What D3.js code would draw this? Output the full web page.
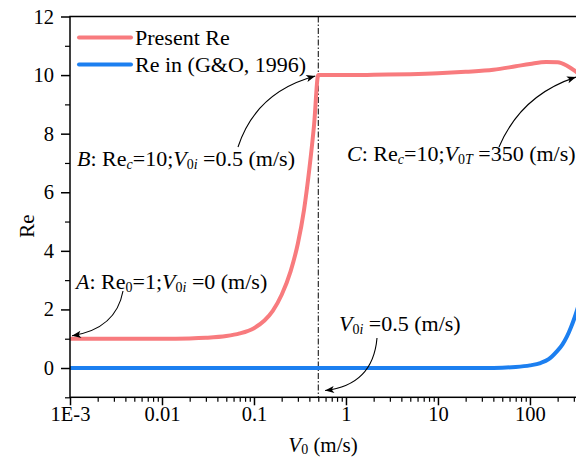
<!DOCTYPE html>
<html>
<head>
<meta charset="utf-8">
<script src="https://cdn.jsdelivr.net/npm/d3@7"></script>
<style>
  html, body { margin: 0; padding: 0; background: #fff; }
  svg { display: block; }
  svg text { font-family: "Liberation Serif", "Times New Roman", Times, serif !important; }
</style>
</head>
<body>
<svg id="chart" width="576" height="461" font-family="Liberation Serif, serif"></svg>
<script>
// Present model: Re versus initial velocity V0 (m/s)
const presentV0 = [0.001, 0.002, 0.005, 0.01, 0.02, 0.03, 0.05, 0.07, 0.1, 0.13, 0.16, 0.2, 0.25, 0.3, 0.35, 0.4, 0.45, 0.5,
                   0.7, 1, 2, 5, 10, 20, 40, 70, 100, 150, 200, 250, 300, 350];
const presentRe = [1.0, 1.0, 1.0, 1.0, 1.01, 1.03, 1.09, 1.18, 1.36, 1.62, 1.95, 2.5, 3.3, 4.25, 5.4, 6.8, 8.3, 10.0,
                   10.0, 10.0, 10.01, 10.03, 10.06, 10.11, 10.18, 10.3, 10.38, 10.45, 10.44, 10.33, 10.17, 10.0];

// Re in (G&O, 1996)
const goV0 = [0.001, 0.01, 0.1, 1, 10, 30, 50, 70, 100, 130, 160, 195, 225, 252, 280, 308, 350];
const goRe = [0, 0, 0, 0, 0, 0.004, 0.012, 0.035, 0.09, 0.17, 0.3, 0.56, 0.8, 1.07, 1.4, 1.75, 2.3];

const xTickValues = [0.001, 0.01, 0.1, 1, 10, 100];
const xTickLabels = ["1E-3", "0.01", "0.1", "1", "10", "100"];
const yTickValues = [0, 2, 4, 6, 8, 10, 12];

const seriesNames = ["Present Re", "Re in (G&O, 1996)"];
const seriesColors = ["#f87b7e", "#1c7ff0"];

const FONT = "Liberation Serif, Times New Roman, serif";

const svg = d3.select("#chart");
const x = d3.scaleLog().domain([0.001, 350]).range([70, 580]);
const y = d3.scaleLinear().domain([-1, 12]).range([397.3, 16.5]);

const plotL = x.range()[0], plotR = x.range()[1];
const plotT = y.range()[1], plotB = y.range()[0];

const defs = svg.append("defs");
defs.append("clipPath").attr("id", "plotClip")
  .append("rect").attr("x", plotL).attr("y", plotT)
  .attr("width", plotR - plotL).attr("height", plotB - plotT);

const marker = defs.append("marker")
  .attr("id", "arrowHead").attr("viewBox", "0 0 10 10")
  .attr("refX", 10).attr("refY", 5)
  .attr("markerWidth", 13).attr("markerHeight", 9)
  .attr("markerUnits", "userSpaceOnUse")
  .attr("orient", "auto");
marker.append("path").attr("d", "M0,1 L10,5 L0,9 L2.5,5 Z").attr("fill", "#000");

// Vertical dash-dot marker at V0 = 0.5 m/s
svg.append("line")
  .attr("x1", x(0.5)).attr("x2", x(0.5))
  .attr("y1", plotT).attr("y2", plotB)
  .attr("stroke", "#000").attr("stroke-width", 1)
  .attr("stroke-dasharray", "6,2,1.5,2");

// Curves
const line = d3.line()
  .x(d => x(d[0])).y(d => y(d[1]))
  .curve(d3.curveMonotoneX);

const curves = svg.append("g").attr("clip-path", "url(#plotClip)");
curves.append("path")
  .datum(goV0.map((v, i) => [v, goRe[i]]))
  .attr("d", line).attr("fill", "none")
  .attr("stroke", seriesColors[1]).attr("stroke-width", 4);
curves.append("path")
  .datum(presentV0.map((v, i) => [v, presentRe[i]]))
  .attr("d", line).attr("fill", "none")
  .attr("stroke", seriesColors[0]).attr("stroke-width", 4)
  .attr("stroke-linejoin", "round");

// Frame
svg.append("rect")
  .attr("x", plotL).attr("y", plotT)
  .attr("width", plotR - plotL).attr("height", plotB - plotT)
  .attr("fill", "none").attr("stroke", "#000").attr("stroke-width", 1.5);

// X axis (log, with minor ticks)
const minorX = [];
for (let e = -3; e <= 2; e++) {
  for (let m = 2; m <= 9; m++) {
    const v = m * Math.pow(10, e);
    if (v <= 350) minorX.push(v);
  }
}
svg.append("g").attr("transform", `translate(0,${plotB})`)
  .call(d3.axisBottom(x).tickValues(minorX).tickSize(4.5).tickFormat(""))
  .call(g => g.select(".domain").remove())
  .call(g => g.selectAll("line").attr("stroke", "#000").attr("stroke-width", 1.2));
svg.append("g").attr("transform", `translate(0,${plotB})`)
  .call(d3.axisBottom(x).tickValues(xTickValues).tickSize(8).tickPadding(4)
    .tickFormat((d, i) => xTickLabels[i]))
  .attr("font-family", FONT)
  .call(g => g.select(".domain").remove())
  .call(g => g.selectAll("line").attr("stroke", "#000").attr("stroke-width", 1.5))
  .call(g => g.selectAll("text").attr("fill", "#000")
    .attr("font-family", FONT).attr("font-size", 20.5)
    .attr("dy", "0.55em"));

// Y axis with minor ticks at odd values
const minorY = [-1, 1, 3, 5, 7, 9, 11];
svg.append("g").attr("transform", `translate(${plotL},0)`)
  .call(d3.axisLeft(y).tickValues(minorY).tickSize(5).tickFormat(""))
  .call(g => g.select(".domain").remove())
  .call(g => g.selectAll("line").attr("stroke", "#000").attr("stroke-width", 1.2));
svg.append("g").attr("transform", `translate(${plotL},0)`)
  .call(d3.axisLeft(y).tickValues(yTickValues).tickSize(9).tickPadding(7).tickFormat(d3.format("d")))
  .attr("font-family", FONT)
  .call(g => g.select(".domain").remove())
  .call(g => g.selectAll("line").attr("stroke", "#000").attr("stroke-width", 1.5))
  .call(g => g.selectAll("text").attr("fill", "#000")
    .attr("font-family", FONT).attr("font-size", 20.5));

// Axis titles
const xTitle = svg.append("text")
  .attr("x", 323).attr("y", 452).attr("font-family", FONT)
  .attr("text-anchor", "middle").attr("font-size", 21);
xTitle.append("tspan").attr("font-style", "italic").text("V");
xTitle.append("tspan").attr("font-size", 14).attr("dy", 2).text("0");
xTitle.append("tspan").attr("dy", -2).text(" (m/s)");

svg.append("text")
  .attr("transform", "translate(34,226) rotate(-90)").attr("font-family", FONT)
  .attr("text-anchor", "middle").attr("font-size", 21)
  .text("Re");

// Legend
const legend = svg.append("g");
seriesNames.forEach((name, i) => {
  const ly = 37.5 + i * 27;
  legend.append("line")
    .attr("x1", 79).attr("x2", 131).attr("y1", ly).attr("y2", ly)
    .attr("stroke", seriesColors[i]).attr("stroke-width", 4).attr("stroke-linecap", "round");
  legend.append("text")
    .attr("x", 135).attr("y", ly + 7.5).attr("font-family", FONT)
    .attr("font-size", 22).text(name);
});

// Annotation text builder: parts are [text, style] with style in {"", "i", "sub", "isub"}
function annotate(px, py, parts) {
  const t = svg.append("text").attr("x", px).attr("y", py)
    .attr("font-family", FONT).attr("font-size", 22);
  let shifted = false;
  parts.forEach(([s, style]) => {
    const sp = t.append("tspan").text(s);
    const isSub = style === "sub" || style === "isub";
    if (style === "i" || style === "isub") sp.attr("font-style", "italic");
    if (isSub) sp.attr("font-size", 14);
    if (isSub && !shifted) { sp.attr("dy", 3); shifted = true; }
    if (!isSub && shifted) { sp.attr("dy", -3); shifted = false; }
  });
  return t;
}

annotate(76, 288.5, [["A", "i"], [": Re", ""], ["0", "sub"], ["=1;", ""], ["V", "i"], ["0", "sub"], ["i", "isub"], [" =0 (m/s)", ""]]);
annotate(77, 166, [["B", "i"], [": Re", ""], ["c", "isub"], ["=10;", ""], ["V", "i"], ["0", "sub"], ["i", "isub"], [" =0.5 (m/s)", ""]]);
annotate(347, 161, [["C", "i"], [": Re", ""], ["c", "isub"], ["=10;", ""], ["V", "i"], ["0", "sub"], ["T", "isub"], [" =350 (m/s)", ""]]);
annotate(339, 331, [["V", "i"], ["0", "sub"], ["i", "isub"], [" =0.5 (m/s)", ""]]);

// Arrows pointing at key states (tips placed via the scales)
function arrow(sx, sy, cx, cy, tx, ty) {
  svg.append("path")
    .attr("d", `M${sx},${sy} Q${cx},${cy} ${tx},${ty}`)
    .attr("fill", "none").attr("stroke", "#000").attr("stroke-width", 1.1)
    .attr("marker-end", "url(#arrowHead)");
}
arrow(123, 291, 116, 329, x(0.001) + 2, y(1) - 3);
arrow(238, 147, 256, 92, x(0.5) - 3, y(10) + 1);
arrow(499, 147, 521, 95, 576, y(10) + 2);
arrow(377, 338, 373, 385, x(0.55) + 3, y(-0.77));
</script>
</body>
</html>
